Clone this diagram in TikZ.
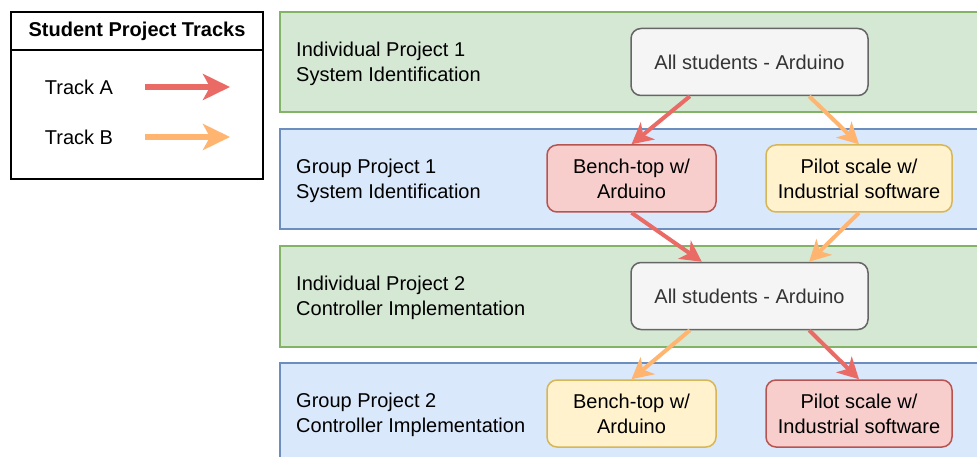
\documentclass[tikz,border=0pt]{standalone}
\usepackage{fontspec}
\setmainfont{Liberation Sans}
\usetikzlibrary{arrows.meta,calc}
\definecolor{gfill}{HTML}{D5E8D4}
\definecolor{gline}{HTML}{82B366}
\definecolor{bfill}{HTML}{DAE8FC}
\definecolor{bline}{HTML}{6C8EBF}
\definecolor{rfill}{HTML}{F8CECC}
\definecolor{rline}{HTML}{B85450}
\definecolor{yfill}{HTML}{FFF2CC}
\definecolor{yline}{HTML}{D6B656}
\definecolor{nfill}{HTML}{F5F5F5}
\definecolor{nline}{HTML}{666666}
\definecolor{ntext}{HTML}{333333}
\definecolor{trA}{HTML}{EA6B66}
\definecolor{trB}{HTML}{FFB570}
\begin{document}
\begin{tikzpicture}[x=1pt,y=-1pt,
  every node/.style={font=\fontsize{20}{25}\selectfont},
  greenlane/.style={fill=gfill,draw=gline,line width=1.5pt},
  bluelane/.style={fill=bfill,draw=bline,line width=1.5pt},
  lanetext/.style={anchor=west,align=left,inner sep=0pt},
  boxbase/.style={rounded corners=10pt,line width=1.5pt,minimum height=67pt,align=center,inner sep=0pt},
  graybox/.style={boxbase,fill=nfill,draw=nline,text=ntext,minimum width=237pt},
  redbox/.style={boxbase,fill=rfill,draw=rline},
  yellowbox/.style={boxbase,fill=yfill,draw=yline},
  trackA/.style={draw=trA,line width=4pt,-{Stealth[length=21pt,width=22pt,inset=6pt]}},
  trackB/.style={draw=trB,line width=4pt,-{Stealth[length=21pt,width=22pt,inset=6pt]}},
  legarrowA/.style={draw=trA,line width=6pt,-{Stealth[length=27pt,width=26pt,inset=7pt]}},
  legarrowB/.style={draw=trB,line width=6pt,-{Stealth[length=27pt,width=26pt,inset=7pt]}}
]
\useasboundingbox (0,0) rectangle (977,457);
\fill[white] (0,0) rectangle (977,457);
\begin{scope}
\clip (0,0) rectangle (977,457);
% lanes
\path[greenlane] (280,12) rectangle (995,112);
\path[bluelane] (280,129) rectangle (995,229);
\path[greenlane] (280,246) rectangle (995,347);
\path[bluelane] (280,363) rectangle (995,475);
\end{scope}
\node[lanetext] (l1) at (296,64) {Individual Project 1\\System Identification};
\node[lanetext] (l2) at (296,181) {Group Project 1\\System Identification};
\node[lanetext] (l3) at (296,298) {Individual Project 2\\Controller Implementation};
\node[lanetext] (l4) at (296,415) {Group Project 2\\Controller Implementation};
% nodes
\node[graybox] (ind1) at (749.5,62) {All students - Arduino};
\node[redbox,minimum width=169pt] (grp1a) at (631.5,178.5) {Bench-top w/\\Arduino};
\node[yellowbox,minimum width=186pt] (grp1b) at (859,178.5) {Pilot scale w/\\Industrial software};
\node[graybox] (ind2) at (749.5,296) {All students - Arduino};
\node[yellowbox,minimum width=169pt] (grp2a) at (631.5,413.5) {Bench-top w/\\Arduino};
\node[redbox,minimum width=186pt] (grp2b) at (859,413.5) {Pilot scale w/\\Industrial software};
% connectors
\draw[trackA] ($(ind1.south west)!0.25!(ind1.south east)$) -- (grp1a.north);
\draw[trackB] ($(ind1.south west)!0.75!(ind1.south east)$) -- (grp1b.north);
\draw[trackA] (grp1a.south) -- ($(ind2.north west)!0.3!(ind2.north east)$);
\draw[trackB] (grp1b.south) -- ($(ind2.north west)!0.75!(ind2.north east)$);
\draw[trackB] ($(ind2.south west)!0.25!(ind2.south east)$) -- (grp2a.north);
\draw[trackA] ($(ind2.south west)!0.75!(ind2.south east)$) -- (grp2b.north);
% legend
\draw[line width=1.5pt] (11,12) rectangle (263,179);
\draw[line width=1.5pt] (11,50) -- (263,50);
\node[font=\fontsize{20}{25}\selectfont\bfseries] (title) at (137,31) {Student Project Tracks};
\node (ta) at (79,87) {Track A};
\node (tb) at (79,137) {Track B};
\coordinate (aS) at (145,87);
\coordinate (aE) at (230,87);
\coordinate (bS) at (145,137);
\coordinate (bE) at (230,137);
\draw[legarrowA] (aS) -- (aE);
\draw[legarrowB] (bS) -- (bE);
\end{tikzpicture}
\end{document}
